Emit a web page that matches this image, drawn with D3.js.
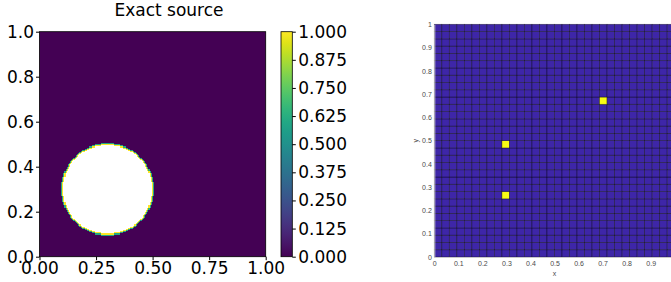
<!DOCTYPE html>
<html>
<head>
<meta charset="utf-8">
<script src="https://cdn.jsdelivr.net/npm/d3@7"></script>
<style>
    body { margin: 0; background: #fff; }
    svg { display: block; }
</style>
</head>
<body>
<script>
// left panel: exact source (disk indicator on a fine grid)
const sourceCenter = [0.3, 0.3];
const sourceRadius = 0.2;
const fieldN = 200;
const leftXTicks = [0, 0.25, 0.5, 0.75, 1];
const leftYTicks = [0, 0.2, 0.4, 0.6, 0.8, 1];
const colorTicks = [0, 0.125, 0.25, 0.375, 0.5, 0.625, 0.75, 0.875, 1];

// right panel: 32x32 mesh with three point sources
const meshN = 32;
const pointSources = [
    {x: 0.30, y: 0.265},
    {x: 0.30, y: 0.485},
    {x: 0.70, y: 0.672}
];
const rightXTicks = [0, 0.1, 0.2, 0.3, 0.4, 0.5, 0.6, 0.7, 0.8, 0.9];
const rightYTicks = [0, 0.1, 0.2, 0.3, 0.4, 0.5, 0.6, 0.7, 0.8, 0.9, 1];

const svg = d3.select('body')
    .append('svg')
    .attr('width', 671)
    .attr('height', 282);

// ---------- left panel ----------
const xL = d3.scaleLinear([0, 1], [39.5, 265.7]);
const yL = d3.scaleLinear([0, 1], [256.7, 31.7]);
const viridis = d3.interpolateViridis;

function inDisk(i, j) {
    if (i < 0 || j < 0 || i >= fieldN || j >= fieldN) return false;
    const cx = (i + 0.5) / fieldN, cy = (j + 0.5) / fieldN;
    return Math.hypot(cx - sourceCenter[0], cy - sourceCenter[1]) <= sourceRadius;
}

const cells = [];
for (let j = 0; j < fieldN; j++) {
    for (let i = 0; i < fieldN; i++) {
        const inside = inDisk(i, j);
        const nb = [inDisk(i - 1, j), inDisk(i + 1, j), inDisk(i, j - 1), inDisk(i, j + 1)];
        if (inside) {
            // boundary cells take the top colour, interior is above vmax (white)
            const edge = nb.some(v => !v);
            cells.push({i, j, v: edge ? 1 : 2});
        } else if (nb.some(v => v)) {
            cells.push({i, j, v: 0.6});
        }
    }
}

const left = svg.append('g');

left.append('rect')
    .attr('x', xL(0))
    .attr('y', yL(1))
    .attr('width', xL(1) - xL(0))
    .attr('height', yL(0) - yL(1))
    .attr('fill', viridis(0));

const cw = xL(1 / fieldN) - xL(0);
const ch = yL(0) - yL(1 / fieldN);
// draw the outer ring first so the yellow/white cells sit on top of it
cells.sort((a, b) => a.v - b.v);
left.append('g')
    .attr('shape-rendering', 'crispEdges')
    .selectAll('rect')
    .data(cells)
    .enter()
    .append('rect')
    .attr('x', d => xL(d.i / fieldN))
    .attr('y', d => yL((d.j + 1) / fieldN))
    .attr('width', cw + 0.3)
    .attr('height', ch + 0.3)
    .attr('fill', d => d.v > 1 ? '#ffffff' : viridis(d.v));

left.append('rect')
    .attr('x', xL(0))
    .attr('y', yL(1))
    .attr('width', xL(1) - xL(0))
    .attr('height', yL(0) - yL(1))
    .attr('fill', 'none')
    .attr('stroke', '#000')
    .attr('stroke-width', 0.8);

const fontBig = 'DejaVu Sans';

function styleAxis(g, size, family, color) {
    g.attr('font-size', size).attr('font-family', family);
    g.selectAll('text').attr('fill', color);
    g.selectAll('line').attr('stroke', color === '#000' ? '#000' : '#999');
}

left.append('g')
    .attr('transform', 'translate(0,' + yL(0) + ')')
    .call(d3.axisBottom(xL).tickValues(leftXTicks).tickFormat(d3.format('.2f'))
        .tickSize(3.5).tickPadding(2))
    .call(g => g.select('.domain').remove())
    .call(g => styleAxis(g, 17, fontBig, '#000'));

left.append('g')
    .attr('transform', 'translate(' + xL(0) + ',0)')
    .call(d3.axisLeft(yL).tickValues(leftYTicks).tickFormat(d3.format('.1f'))
        .tickSize(3.5).tickPadding(2))
    .call(g => g.select('.domain').remove())
    .call(g => styleAxis(g, 17, fontBig, '#000'));

left.append('text')
    .attr('x', 169)
    .attr('y', 16)
    .attr('text-anchor', 'middle')
    .attr('font-family', fontBig)
    .attr('font-size', 17)
    .text('Exact source');

// colorbar
const cb = d3.scaleLinear([0, 1], [256.7, 31.7]);
const grad = svg.append('defs').append('linearGradient')
    .attr('id', 'cbgrad')
    .attr('x1', 0).attr('y1', 1).attr('x2', 0).attr('y2', 0);
grad.selectAll('stop')
    .data(d3.range(0, 1.0001, 0.05))
    .enter()
    .append('stop')
    .attr('offset', d => d)
    .attr('stop-color', d => viridis(d));

svg.append('rect')
    .attr('x', 281)
    .attr('y', cb(1))
    .attr('width', 11.3)
    .attr('height', cb(0) - cb(1))
    .attr('fill', 'url(#cbgrad)')
    .attr('stroke', '#000')
    .attr('stroke-width', 0.8);

svg.append('g')
    .attr('transform', 'translate(292.3,0)')
    .call(d3.axisRight(cb).tickValues(colorTicks).tickFormat(d3.format('.3f'))
        .tickSize(3.5).tickPadding(2.5))
    .call(g => g.select('.domain').remove())
    .call(g => styleAxis(g, 17, fontBig, '#000'));

// ---------- right panel ----------
const xR = d3.scaleLinear([0, 1], [434.3, 674.7]);
const yR = d3.scaleLinear([0, 1], [257, 24.3]);
const parulaLow = '#3e26a8';
const parulaHigh = '#f9fb15';

const hot = new Set(pointSources.map(p =>
    Math.floor(p.x * meshN) + ',' + Math.floor(p.y * meshN)));
const mesh = [];
for (let j = 0; j < meshN; j++) {
    for (let i = 0; i < meshN; i++) {
        mesh.push({i, j, v: hot.has(i + ',' + j) ? 1 : 0});
    }
}

const right = svg.append('g');

right.selectAll('rect')
    .data(mesh)
    .enter()
    .append('rect')
    .attr('x', d => xR(d.i / meshN))
    .attr('y', d => yR((d.j + 1) / meshN))
    .attr('width', xR(1 / meshN) - xR(0))
    .attr('height', yR(0) - yR(1 / meshN))
    .attr('fill', d => d.v ? parulaHigh : parulaLow)
    .attr('stroke', '#000')
    .attr('stroke-opacity', 0.5)
    .attr('stroke-width', 0.7);

const fontSmall = 'Liberation Sans';
const tickFmt = d => d === 0 ? '0' : d === 1 ? '1' : d3.format('.1f')(d);

right.append('g')
    .attr('transform', 'translate(0,' + yR(0) + ')')
    .call(d3.axisBottom(xR).tickValues(rightXTicks).tickFormat(tickFmt)
        .tickSizeInner(0).tickSizeOuter(0).tickPadding(4))
    .call(g => g.select('.domain').attr('stroke', '#c8c8c8'))
    .call(g => styleAxis(g, 7, fontSmall, '#4a4a4a'));

right.append('g')
    .attr('transform', 'translate(' + xR(0) + ',0)')
    .call(d3.axisLeft(yR).tickValues(rightYTicks).tickFormat(tickFmt)
        .tickSizeInner(0).tickSizeOuter(0).tickPadding(2.5))
    .call(g => g.select('.domain').attr('stroke', '#c8c8c8'))
    .call(g => styleAxis(g, 7, fontSmall, '#4a4a4a'));

right.append('text')
    .attr('x', (xR(0) + xR(1)) / 2)
    .attr('y', 276)
    .attr('text-anchor', 'middle')
    .attr('font-family', fontSmall)
    .attr('font-size', 7)
    .attr('fill', '#4a4a4a')
    .text('x');

right.append('text')
    .attr('transform', 'translate(418,' + ((yR(0) + yR(1)) / 2) + ') rotate(-90)')
    .attr('text-anchor', 'middle')
    .attr('font-family', fontSmall)
    .attr('font-size', 7)
    .attr('fill', '#4a4a4a')
    .text('y');
</script>
</body>
</html>
